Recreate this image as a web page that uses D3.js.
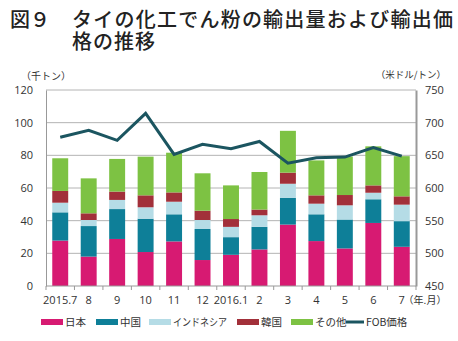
<!DOCTYPE html>
<html>
<head>
<meta charset="utf-8">
<script src="https://cdn.jsdelivr.net/npm/d3@7"></script>
<style>
  body { margin: 0; background: #fff; }
  svg { font-family: "Noto Sans CJK JP", "Noto Sans", sans-serif; }
</style>
</head>
<body>
<div id="chart"></div>
<script>
var months = ["2015.7", "8", "9", "10", "11", "12", "2016.1", "2", "3", "4", "5", "6", "7"];
var japan     = [27.8, 18.0, 28.8, 20.8, 27.3, 15.9, 19.1, 22.4, 37.6, 27.5, 23.0, 38.6, 24.0];
var china     = [17.3, 18.7, 18.3, 20.4, 16.6, 19.0, 10.8, 13.8, 16.3, 16.4, 17.7, 14.5, 15.7];
var indonesia = [5.9, 3.7, 5.6, 7.0, 7.7, 5.5, 6.3, 7.1, 8.7, 6.5, 8.7, 4.0, 10.1];
var korea     = [7.2, 4.1, 5.1, 7.3, 5.7, 5.7, 4.8, 3.5, 6.8, 5.1, 6.3, 4.5, 5.1];
var others    = [20.0, 21.4, 20.0, 23.7, 24.3, 22.9, 20.6, 23.0, 25.6, 21.4, 23.6, 23.9, 24.6];
var fobPrice  = [677.6, 688.3, 673.0, 714.3, 651.5, 666.8, 660.0, 671.2, 638.1, 646.3, 647.3, 662.0, 648.8];
var seriesNames = ["日本", "中国", "インドネシア", "韓国", "その他"];
var leftTicks = [0, 20, 40, 60, 80, 100, 120];
var rightTicks = [450, 500, 550, 600, 650, 700, 750];

var w = 458, h = 341;
var colors = ["#d71a72", "#0e7f98", "#b5dce6", "#a2303a", "#7dc243"];

var svg = d3.select("#chart").append("svg")
    .attr("width", w)
    .attr("height", h);

// title
svg.append("text")
    .attr("x", 10).attr("y", 27)
    .attr("font-size", 20).attr("font-weight", 500)
    .attr("fill", "#222")
    .text("図９");
svg.append("text")
    .attr("x", 72).attr("y", 27)
    .attr("font-size", 20).attr("font-weight", 500)
    .attr("fill", "#222")
    .attr("textLength", 381)
    .attr("lengthAdjust", "spacing")
    .text("タイの化工でん粉の輸出量および輸出価");
svg.append("text")
    .attr("x", 72).attr("y", 49)
    .attr("font-size", 20).attr("font-weight", 500)
    .attr("letter-spacing", 1)
    .attr("fill", "#222")
    .text("格の推移");

var x = d3.scaleBand()
    .domain(months)
    .range([46, 416])
    .paddingInner(0.44)
    .paddingOuter(0.22);

var y = d3.scaleLinear().domain([0, 120]).range([286, 90]);
var y2 = d3.scaleLinear().domain([450, 750]).range([286, 90]);

// grid
svg.selectAll("line.grid")
    .data(leftTicks.slice(1))
    .enter().append("line")
    .attr("class", "grid")
    .attr("x1", 46).attr("x2", 416)
    .attr("y1", function(d){ return y(d); })
    .attr("y2", function(d){ return y(d); })
    .attr("stroke", "#b4b4b4")
    .attr("stroke-width", 1);

// stacked bars
var table = months.map(function(m, i){
    return { month: m, s0: japan[i], s1: china[i], s2: indonesia[i], s3: korea[i], s4: others[i] };
});
var stack = d3.stack().keys(["s0", "s1", "s2", "s3", "s4"]);
var layers = stack(table);

svg.selectAll("g.layer")
    .data(layers)
    .enter().append("g")
    .attr("class", "layer")
    .attr("fill", function(d, i){ return colors[i]; })
    .selectAll("rect")
    .data(function(d){ return d; })
    .enter().append("rect")
    .attr("x", function(d){ return x(d.data.month); })
    .attr("width", x.bandwidth())
    .attr("y", function(d){ return y(d[1]); })
    .attr("height", function(d){ return y(d[0]) - y(d[1]); });

// left axis
var leftAxis = svg.append("g")
    .attr("transform", "translate(46,0)")
    .call(d3.axisLeft(y).tickValues(leftTicks).tickSize(0).tickPadding(13));
leftAxis.select(".domain").attr("stroke", "#999");

// right axis
var rightAxis = svg.append("g")
    .attr("transform", "translate(416,0)")
    .call(d3.axisRight(y2).tickValues(rightTicks).tickSize(0).tickPadding(9));
rightAxis.select(".domain").attr("stroke", "#999").attr("stroke-width", 2);

[leftAxis, rightAxis].forEach(function(a){
    a.selectAll("text").attr("font-size", 11).attr("fill", "#333")
        .attr("font-family", "'Open Sans', 'Noto Sans', sans-serif");
});

// bottom axis
var bottom = svg.append("g").attr("transform", "translate(0,286)");
bottom.append("line")
    .attr("x1", 46).attr("x2", 416)
    .attr("stroke", "#999");
var step = x.step();
bottom.selectAll("line.tick")
    .data(months.concat([""]))
    .enter().append("line")
    .attr("class", "tick")
    .attr("x1", function(d, i){ return 46 + i * step; })
    .attr("x2", function(d, i){ return 46 + i * step; })
    .attr("y1", 0).attr("y2", 4)
    .attr("stroke", "#999");
bottom.selectAll("text")
    .data(months)
    .enter().append("text")
    .attr("x", function(d){ return x(d) + x.bandwidth() / 2; })
    .attr("y", 18)
    .attr("text-anchor", "middle")
    .attr("font-size", 11)
    .attr("fill", "#333")
    .attr("font-family", "'Open Sans', 'Noto Sans', sans-serif")
    .text(function(d){ return d; });
bottom.append("text")
    .attr("x", 425).attr("y", 18)
    .attr("text-anchor", "middle")
    .attr("font-size", 10)
    .attr("fill", "#333")
    .text("（年.月）");

// unit labels
svg.append("text")
    .attr("x", 21).attr("y", 80)
    .attr("font-size", 10).attr("fill", "#333")
    .text("（千トン）");
svg.append("text")
    .attr("x", 446).attr("y", 78)
    .attr("text-anchor", "end")
    .attr("font-size", 9.5).attr("fill", "#333")
    .text("（米ドル/トン）");

// FOB line
var line = d3.line()
    .x(function(d, i){ return x(months[i]) + x.bandwidth() / 2; })
    .y(function(d){ return y2(d); });
svg.append("path")
    .datum(fobPrice)
    .attr("d", line)
    .attr("fill", "none")
    .attr("stroke", "#1b5560")
    .attr("stroke-width", 3)
    .attr("stroke-linejoin", "miter");

// legend
var legendX = [41, 96, 149, 237, 291];
var legend = svg.append("g").attr("transform", "translate(0,322)");
seriesNames.forEach(function(name, i){
    legend.append("rect")
        .attr("x", legendX[i]).attr("y", -3)
        .attr("width", 22).attr("height", 6)
        .attr("fill", colors[i]);
    var t = legend.append("text")
        .attr("x", legendX[i] + 24).attr("y", 4)
        .attr("font-size", 10.5).attr("fill", "#333")
        .text(name);
    if (name === "インドネシア") {
        t.attr("textLength", 54).attr("lengthAdjust", "spacingAndGlyphs");
    }
});
legend.append("line")
    .attr("x1", 346).attr("x2", 364)
    .attr("y1", 0).attr("y2", 0)
    .attr("stroke", "#1b5560").attr("stroke-width", 3);
legend.append("text")
    .attr("x", 366).attr("y", 4)
    .attr("font-size", 10.5).attr("fill", "#333")
    .text("FOB価格");
</script>
</body>
</html>
